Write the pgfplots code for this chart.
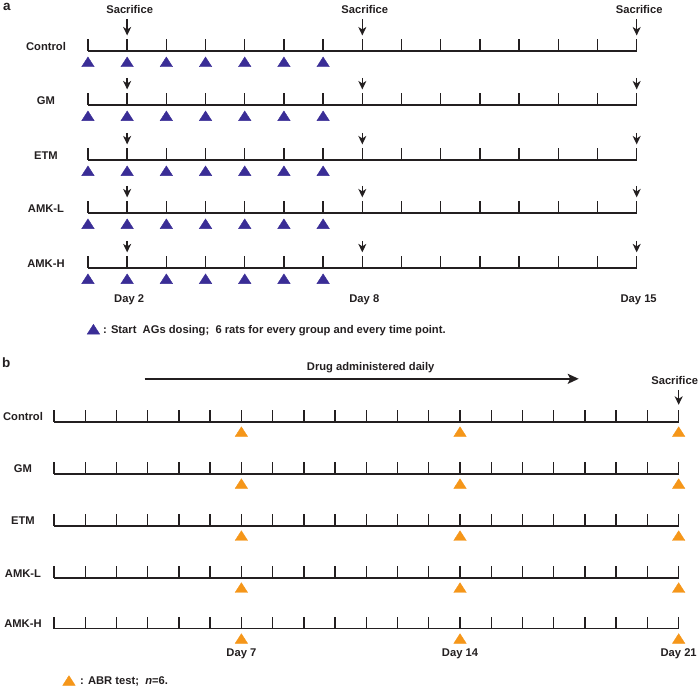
\documentclass[border=0pt]{standalone}
\usepackage{fontspec}
\setmainfont{Liberation Sans}
\usepackage{pgfplots}
\pgfplotsset{compat=1.18}
\usepackage{pgfplotstable}
\usetikzlibrary{arrows.meta}

\definecolor{linec}{RGB}{35,31,32}
\definecolor{dosec}{RGB}{58,45,150}
\definecolor{abrc}{RGB}{245,150,25}

% panel a: days on the timeline
\pgfplotstableread{
day event
1 1
2 1
3 1
4 1
5 1
6 1
7 1
8 1
9 1
10 1
11 1
12 1
13 1
14 1
15 1
}\daysA
% panel a: AG dosing days
\pgfplotstableread{
day event
1 1
2 1
3 1
4 1
5 1
6 1
7 1
}\dosA
% panel a: sacrifice days
\pgfplotstableread{
day event
2 1
8 1
15 1
}\sacA
% panel b: days on the timeline
\pgfplotstableread{
day event
1 1
2 1
3 1
4 1
5 1
6 1
7 1
8 1
9 1
10 1
11 1
12 1
13 1
14 1
15 1
16 1
17 1
18 1
19 1
20 1
21 1
}\daysB
% panel b: ABR test days
\pgfplotstableread{
day event
7 1
14 1
21 1
}\abrB

\pgfplotsset{
  tl/.style={scale only axis, width=698bp, height=687bp, ymin=0, ymax=687,
    y dir=reverse, hide axis, clip=false, at={(0,0)}, anchor=south west},
}
\tikzset{
  lbl/.style={font=\fontsize{11.2bp}{13bp}\selectfont\bfseries, inner sep=0pt, text=linec},
  big/.style={font=\fontsize{13.5bp}{15bp}\selectfont\bfseries, inner sep=0pt, text=linec},
  sarr/.style={linec, line width=1.4bp, -{Stealth[length=8.5bp,width=8bp,inset=2.5bp]}},
}

\begin{document}
\begin{tikzpicture}
% ---------------- panel a ----------------
\begin{axis}[tl, xmin=-1.24408, xmax=16.5556]
\path (rel axis cs:0,0) rectangle (rel axis cs:1,1);
\pgfplotsinvokeforeach{51,105,160,213,268}{
  \addplot[linec, line width=1.6bp] coordinates {(1,#1) (15,#1)};
  \addplot[linec, line width=1.4bp, quiver={u=0,v=-12}] table[x=day, y expr=#1] {\daysA};
  \addplot[only marks, mark=triangle*, mark size=7.2bp, dosec, mark options={yscale=0.9}]
    table[x=day, y expr=#1+12.5] {\dosA};
}
\addplot[sarr, quiver={u=0,v=16.5}] table[x=day, y expr=19] {\sacA};
\pgfplotsinvokeforeach{105,160,213,268}{
  \addplot[sarr, quiver={u=0,v=11.5}] table[x=day, y expr=#1-27] {\sacA};
}
\addplot[only marks, mark=triangle*, mark size=7.2bp, dosec, mark options={yscale=0.9}]
  coordinates {(1.14,331)};

\node[big, anchor=base west, xshift=-85bp] at (axis cs:1,11) {a};
\node[lbl, anchor=base, xshift=2.5bp] at (axis cs:2,14) {Sacrifice};
\node[lbl, anchor=base, xshift=2.5bp] at (axis cs:8,14) {Sacrifice};
\node[lbl, anchor=base, xshift=2.5bp] at (axis cs:15,14) {Sacrifice};
\node[lbl, anchor=base, xshift=-42bp] at (axis cs:1,50.5) {Control};
\node[lbl, anchor=base, xshift=-42bp] at (axis cs:1,105) {GM};
\node[lbl, anchor=base, xshift=-42bp] at (axis cs:1,160) {ETM};
\node[lbl, anchor=base, xshift=-42bp] at (axis cs:1,213) {AMK-L};
\node[lbl, anchor=base, xshift=-42bp] at (axis cs:1,268) {AMK-H};
\node[lbl, anchor=base, xshift=2bp] at (axis cs:2,303) {Day 2};
\node[lbl, anchor=base, xshift=2bp] at (axis cs:8,303) {Day 8};
\node[lbl, anchor=base, xshift=2bp] at (axis cs:15,303) {Day 15};
\node[lbl, anchor=base west, xshift=15bp] at (axis cs:1,334)
  {: Start\ \ AGs dosing;\ \ 6 rats for every group and every time point.};
\end{axis}

% ---------------- panel b ----------------
\begin{axis}[tl, xmin=-0.728, xmax=21.608]
\pgfplotsinvokeforeach{422,474,526,578,629}{
  \addplot[linec, line width=1.6bp] coordinates {(1,#1) (21,#1)};
  \addplot[linec, line width=1.4bp, quiver={u=0,v=-11.5}] table[x=day, y expr=#1] {\daysB};
  \addplot[only marks, mark=triangle*, mark size=7.2bp, abrc, mark options={yscale=0.9}]
    table[x=day, y expr=#1+11.5] {\abrB};
}
\addplot[sarr, quiver={u=0,v=15}] coordinates {(21,390)};
\addplot[linec, line width=1.7bp, -{Stealth[length=11bp,width=10bp,inset=2.5bp]}]
  coordinates {(3.9,379) (17.8,379)};
\addplot[only marks, mark=triangle*, mark size=7.2bp, abrc, mark options={yscale=0.9}]
  coordinates {(1.48,682.5)};

\node[big, anchor=base west, xshift=-52bp] at (axis cs:1,368) {b};
\node[lbl, anchor=base] at (axis cs:11.14,371) {Drug administered daily};
\node[lbl, anchor=base, xshift=-4bp] at (axis cs:21,385) {Sacrifice};
\node[lbl, anchor=base, xshift=-31bp] at (axis cs:1,421) {Control};
\node[lbl, anchor=base, xshift=-31bp] at (axis cs:1,473) {GM};
\node[lbl, anchor=base, xshift=-31bp] at (axis cs:1,525) {ETM};
\node[lbl, anchor=base, xshift=-31bp] at (axis cs:1,577.5) {AMK-L};
\node[lbl, anchor=base, xshift=-31bp] at (axis cs:1,628) {AMK-H};
\node[lbl, anchor=base] at (axis cs:7,657) {Day 7};
\node[lbl, anchor=base] at (axis cs:14,657) {Day 14};
\node[lbl, anchor=base] at (axis cs:21,657) {Day 21};
\node[lbl, anchor=base west, xshift=26bp] at (axis cs:1,685)
  {: ABR test;\ \ \textit{n}=6.};
\end{axis}
\end{tikzpicture}
\end{document}
